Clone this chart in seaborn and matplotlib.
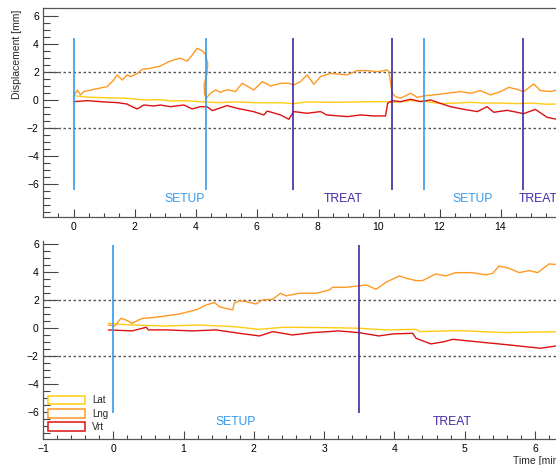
import numpy as np
import pandas as pd
import matplotlib
matplotlib.use("Agg")
import matplotlib.pyplot as plt
from matplotlib.patches import Patch
from matplotlib.ticker import FixedLocator, MultipleLocator
import seaborn as sns

# ---- data ----
# top panel (whole session)
top_lng_t = [0.0, 0.12, 0.23, 0.34, 0.67, 1.1, 1.32, 1.43, 1.6, 1.76, 1.87, 2.09, 2.25, 2.52,
             2.85, 3.13, 3.34, 3.5, 3.73, 3.89, 4.05, 4.22, 4.33, 4.4, 4.38, 4.28, 4.3, 4.35,
             4.49, 4.66, 4.82, 5.04, 5.31, 5.53, 5.69, 5.91, 6.19, 6.3, 6.46, 6.79, 7.06, 7.22,
             7.44, 7.66, 7.88, 8.1, 8.43, 8.64, 8.97, 9.3, 9.63, 9.96, 10.28, 10.34, 10.45,
             10.56, 10.72, 11.05, 11.27, 11.49, 11.81, 12.25, 12.69, 13.02, 13.34, 13.67, 14.0,
             14.27, 14.54, 14.76, 15.09, 15.31, 15.64, 15.84, 16.0]
top_lng = [0.24, 0.71, 0.36, 0.6, 0.76, 0.95, 1.43, 1.79, 1.43, 1.79, 1.67, 1.9, 2.19, 2.26,
           2.43, 2.74, 2.9, 2.98, 2.78, 3.2, 3.69, 3.52, 3.25, 2.6, 1.9, 1.1, 0.4, 0.12,
           0.48, 0.71, 0.55, 0.74, 0.6, 1.19, 1.0, 0.71, 1.31, 1.19, 1.0, 1.19, 1.19, 1.07,
           1.31, 1.79, 1.12, 1.67, 1.9, 1.86, 1.79, 2.1, 2.1, 2.02, 2.14, 2.02, 0.48,
           0.24, 0.12, 0.48, 0.19, 0.29, 0.36, 0.48, 0.6, 0.48, 0.67, 0.36, 0.6,
           0.9, 0.76, 0.6, 1.14, 0.67, 0.6, 0.71, 0.8]

top_lat_t = [0.0, 0.45, 0.88, 1.43, 1.76, 2.31, 2.85, 3.18, 3.62, 4.16, 4.55, 4.82, 5.37, 6.0,
             6.79, 7.22, 7.66, 8.5, 9.3, 9.85, 10.28, 10.5, 11.05, 11.5, 12.03, 12.5, 13.0,
             13.5, 14.0, 14.5, 15.0, 15.5, 16.0]
top_lat = [0.31, 0.2, 0.17, 0.14, 0.12, 0.0, 0.02, -0.07, -0.05, -0.12, -0.17, -0.19, -0.14, -0.2,
           -0.2, -0.26, -0.14, -0.17, -0.14, -0.12, -0.12, -0.17, -0.05, -0.1, -0.26, -0.22, -0.17,
           -0.22, -0.22, -0.26, -0.22, -0.3, -0.29]

top_vrt_t = [0.0, 0.45, 0.88, 1.43, 1.76, 1.87, 2.09, 2.31, 2.63, 2.85, 3.18, 3.62, 3.89, 4.16,
             4.38, 4.55, 4.77, 5.04, 5.37, 5.9, 6.24, 6.35, 6.79, 7.06, 7.22, 7.66, 8.1, 8.3,
             8.97, 9.41, 9.85, 10.23, 10.3, 10.45, 10.72, 11.05, 11.38, 11.71, 12.03, 12.36,
             12.8, 13.24, 13.56, 13.78, 14.22, 14.54, 14.76, 15.14, 15.53, 15.84, 16.0]
top_vrt = [-0.12, -0.05, -0.12, -0.19, -0.29, -0.43, -0.64, -0.36, -0.43, -0.36, -0.48, -0.36,
           -0.64, -0.48, -0.48, -0.76, -0.6, -0.4, -0.6, -0.83, -1.07, -0.79, -1.07, -1.38,
           -0.83, -0.95, -0.83, -1.07, -1.19, -1.07, -1.14, -1.14, -0.24, -0.05, -0.12, 0.05,
           -0.12, 0.0, -0.24, -0.48, -0.67, -0.83, -0.48, -0.88, -0.74, -0.88, -0.98, -0.67,
           -1.24, -1.38, -1.3]

top_marks = [0, 4.35, 7.2, 10.45, 11.5, 14.75]
top_mark_kind = ["SETUP", "SETUP", "TREAT", "TREAT", "SETUP", "TREAT"]
top_labels = ["SETUP", "TREAT", "SETUP", "TREAT"]
top_label_t = [3.63, 8.83, 13.1, 15.25]

# bottom panel (one fraction)
bot_lng_t = [-0.07, 0.02, 0.11, 0.18, 0.27, 0.36, 0.42, 0.56, 0.75, 0.94, 1.08, 1.2, 1.32, 1.44,
             1.51, 1.6, 1.7, 1.72, 1.79, 1.89, 2.03, 2.12, 2.27, 2.38, 2.46, 2.65, 2.89, 3.07,
             3.12, 3.3, 3.49, 3.6, 3.74, 3.88, 4.07, 4.17, 4.31, 4.4, 4.59, 4.73, 4.87, 5.11,
             5.3, 5.4, 5.49, 5.63, 5.78, 5.92, 6.04, 6.2, 6.4]
bot_lng = [0.21, 0.14, 0.69, 0.57, 0.33, 0.57, 0.69, 0.74, 0.86, 1.0, 1.17, 1.33, 1.64, 1.81,
           1.52, 1.4, 1.29, 1.76, 1.93, 1.88, 1.71, 2.0, 2.05, 2.48, 2.29, 2.48, 2.48, 2.71,
           2.9, 2.9, 3.0, 3.07, 2.76, 3.26, 3.71, 3.55, 3.38, 3.38, 3.86, 3.71, 3.95, 3.95,
           3.79, 3.9, 4.43, 4.26, 3.95, 4.1, 3.95, 4.57, 4.5]

bot_lat_t = [-0.07, 0.27, 0.75, 1.22, 1.7, 2.08, 2.42, 3.07, 3.49, 3.88, 4.31, 4.36, 4.9, 5.58, 6.4]
bot_lat = [0.33, 0.21, 0.14, 0.21, 0.1, -0.1, 0.05, 0.02, -0.02, -0.14, -0.1, -0.26, -0.19, -0.33, -0.26]

bot_vrt_t = [-0.07, 0.27, 0.47, 0.5, 0.75, 1.13, 1.46, 1.79, 2.08, 2.27, 2.55, 2.84, 3.07, 3.2,
             3.49, 3.78, 3.97, 4.26, 4.31, 4.52, 4.71, 4.83, 5.16, 5.63, 6.08, 6.4]
bot_vrt = [-0.14, -0.21, 0.05, -0.14, -0.14, -0.21, -0.14, -0.38, -0.57, -0.26, -0.5, -0.33,
           -0.26, -0.21, -0.33, -0.57, -0.43, -0.38, -0.74, -1.14, -0.98, -0.81, -0.98, -1.21,
           -1.45, -1.21]

bot_marks = [0, 3.5]
bot_mark_kind = ["SETUP", "TREAT"]
bot_labels = ["SETUP", "TREAT"]
bot_label_t = [1.745, 4.82]

series_names = ["Lat", "Lng", "Vrt"]
palette = {"Lat": "#FFCC11", "Lng": "#FF9922", "Vrt": "#DD1111"}
kind_color = {"SETUP": "#3399EE", "TREAT": "#4428A8"}

sns.set_style("ticks")
plt.rcParams["font.family"] = ["Liberation Sans", "DejaVu Sans"]

W, H = 556, 465
fig = plt.figure(figsize=(W / 100, H / 100), dpi=100)


def frame(t_lists, v_lists):
    parts = []
    for name, t, v in zip(series_names, t_lists, v_lists):
        parts.append(pd.DataFrame({"t": t, "v": v, "series": name}))
    return pd.concat(parts, ignore_index=True)


def px_axes(left, top, right, bottom):
    return fig.add_axes([left / W, 1 - bottom / H, (right - left) / W, (bottom - top) / H])


def style(ax, xmajor, xminor, xlen):
    ax.yaxis.set_major_locator(FixedLocator([-6, -4, -2, 0, 2, 4, 6]))
    ax.yaxis.set_minor_locator(FixedLocator(np.arange(-8, 6.01, 0.5)))
    ax.xaxis.set_major_locator(MultipleLocator(xmajor))
    ax.xaxis.set_minor_locator(MultipleLocator(xminor))
    ax.tick_params(axis="y", which="major", direction="in", length=10.5, width=0.8,
                   labelsize=7.5, pad=3, colors="#444444", labelcolor="black")
    ax.tick_params(axis="y", which="minor", direction="in", length=5, width=0.8, colors="#444444")
    ax.tick_params(axis="x", which="major", direction="in", length=xlen, width=0.8,
                   labelsize=7.5, pad=3.5, colors="#444444", labelcolor="black")
    ax.tick_params(axis="x", which="minor", direction="in", length=3, width=0.8, colors="#444444")
    for s in ax.spines.values():
        s.set_color("#555555")
        s.set_linewidth(0.9)
    ax.set_xlabel("")
    ax.set_ylabel("")
    for y in (-2, 2):
        ax.axhline(y, color="#555555", lw=1.0, ls=(0, (1.8, 1.8)), zorder=1)


# ---- top panel ----
ax1 = px_axes(43, 8, 561.5, 217)
df_top = frame([top_lat_t, top_lng_t, top_vrt_t], [top_lat, top_lng, top_vrt])
sns.lineplot(data=df_top, x="t", y="v", hue="series", palette=palette, sort=False,
             estimator=None, legend=False, lw=1.0, ax=ax1, zorder=3)
ax1.vlines(top_marks, -6.4, 4.45, colors=[kind_color[k] for k in top_mark_kind], lw=1.2, zorder=4)
for lab, t in zip(top_labels, top_label_t):
    ax1.text(t, -7.04, lab, color=kind_color[lab], fontsize=8.7, ha="center", va="center")
ax1.set_xlim(-1, 16)
ax1.set_ylim(-8.36, 6.57)
style(ax1, 2, 0.5, 5.8)
ax1.spines["right"].set_visible(False)

# ---- bottom panel ----
ax2 = px_axes(43, 241, 563, 439)
df_bot = frame([bot_lat_t, bot_lng_t, bot_vrt_t], [bot_lat, bot_lng, bot_vrt])
sns.lineplot(data=df_bot, x="t", y="v", hue="series", palette=palette, sort=False,
             estimator=None, legend=False, lw=1.0, ax=ax2, zorder=3)
ax2.vlines(bot_marks, -6.05, 5.93, colors=[kind_color[k] for k in bot_mark_kind], lw=1.2, zorder=4)
for lab, t in zip(bot_labels, bot_label_t):
    ax2.text(t, -6.7, lab, color=kind_color[lab], fontsize=8.7, ha="center", va="center")
ax2.set_xlim(-1, 6.4)
ax2.set_ylim(-7.93, 6.21)
style(ax2, 1, 0.2, 5.5)
ax2.spines["right"].set_visible(False)
ax2.spines["top"].set_visible(False)

handles = [Patch(facecolor="white", edgecolor=palette[n], lw=1.1, label=n) for n in series_names]
ax2.legend(handles=handles, loc="lower left", bbox_to_anchor=(0.009, 0.035), frameon=False,
           fontsize=7, handlelength=3.8, handleheight=1.0, labelspacing=0.35,
           handletextpad=0.8, borderpad=0, borderaxespad=0)

fig.text(17 / W, 1 - 10 / H, "Displacement [mm]", rotation=90, ha="center", va="top", fontsize=7.5)
fig.text(561 / W, 1 - 455.5 / H, "Time [min]", ha="right", va="top", fontsize=7.5)

fig.savefig("out.png", dpi=100)
